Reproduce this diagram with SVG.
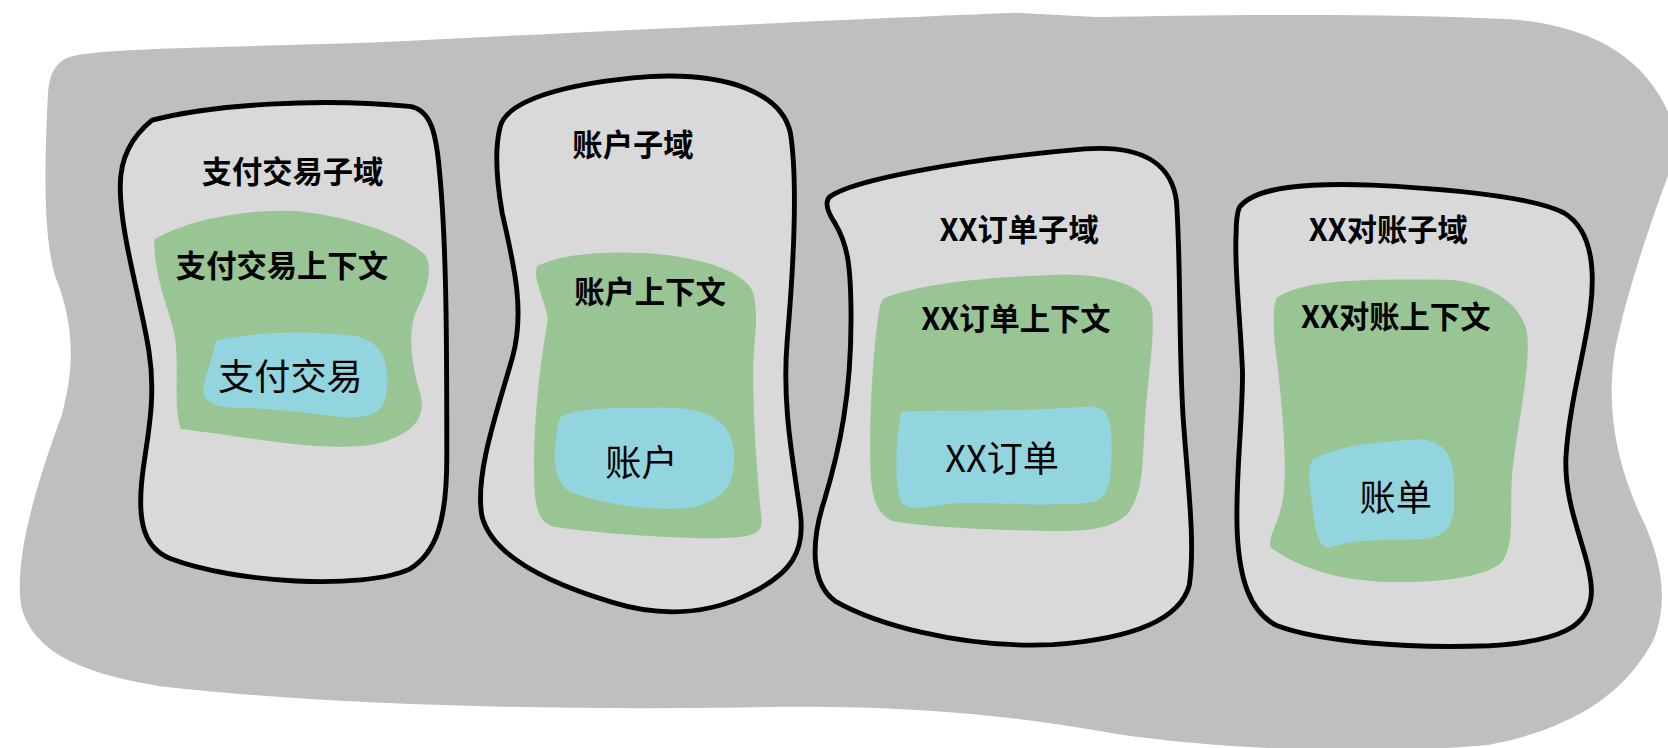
<svg xmlns="http://www.w3.org/2000/svg" width="1668" height="748" viewBox="0 0 1668 748">
<style>
.sub{fill:#d9d9d9;stroke:#000;stroke-width:4.6;stroke-linejoin:round}
.ctx{fill:#99c494}
.ent{fill:#92d5de}
.t{font-family:"Noto Sans CJK SC","Noto Sans",sans-serif;fill:#000;text-anchor:middle}
.b{font-weight:bold;font-size:28.5px}
.n{font-size:34px}
</style>
<rect width="1668" height="748" fill="#ffffff"/>
<g transform="scale(1.0638)">
<g id="domain">
<path fill="#bfbfbf" d="M62,55 C80,45 200,45 350,40 C550,30 800,18 955,12 L1030,16 C1150,14 1300,12 1420,18 C1500,25 1545,55 1568,105 L1568,165 C1555,200 1530,270 1518,330 C1510,380 1518,430 1540,480 C1560,520 1570,560 1555,600 C1530,650 1480,685 1400,700 C1300,710 1150,705 1050,690 C950,672 850,662 700,665 C500,668 300,662 150,645 C70,632 30,610 20,570 C12,520 40,440 58,390 C72,340 68,300 52,260 C40,220 42,150 45,90 C46,70 52,60 62,55 Z"/>
</g>
<g id="sub-payment">
<path class="sub" d="M143,113 C200,98 300,92 385,100 C405,103 410,125 413,160 C420,230 420,330 420,430 C420,490 410,520 385,535 C340,555 220,548 160,525 C135,515 130,490 133,455 C136,420 148,380 140,330 C132,280 113,220 113,175 C113,145 128,125 143,113 Z"/>
<path class="ctx" d="M145,225 C180,205 230,198 270,198 C320,200 380,220 400,240 C408,255 400,275 390,295 C384,315 386,340 395,370 C402,395 385,410 350,418 C300,425 240,412 170,403 C163,385 168,350 165,320 C160,290 145,265 145,225 Z"/>
<path class="ent" d="M203,320 C240,312 290,310 335,316 C360,322 365,340 364,365 C362,388 350,394 320,392 C290,388 250,383 215,383 C195,382 188,372 192,360 C196,345 200,335 203,320 Z"/>
<text class="t b" x="275" y="172">支付交易子域</text>
<text class="t b" x="265" y="260">支付交易上下文</text>
<text class="t n" x="273" y="367">支付交易</text>
</g>
<g id="sub-account">
<path class="sub" d="M470,120 C475,95 530,78 610,72 C685,68 735,88 743,125 C750,170 746,250 740,320 C735,380 745,430 752,480 C758,520 742,540 705,558 C665,578 620,580 575,566 C515,548 462,522 453,485 C446,445 468,385 482,335 C494,290 482,245 472,200 C466,165 465,140 470,120 Z"/>
<path class="ctx" d="M505,250 C530,238 570,236 610,238 C660,242 700,255 708,275 C714,300 708,320 708,350 C708,400 712,450 716,490 C716,505 700,506 660,506 C610,505 550,500 520,495 C505,490 502,475 502,440 C502,390 508,340 515,300 C512,280 500,262 505,250 Z"/>
<path class="ent" d="M527,392 C545,382 580,384 620,383 C665,382 688,395 690,425 C692,455 680,470 650,477 C610,482 560,472 535,462 C520,452 520,430 523,410 C524,400 525,395 527,392 Z"/>
<text class="t b" x="595" y="147">账户子域</text>
<text class="t b" x="611" y="285">账户上下文</text>
<text class="t n" x="603" y="447">账户</text>
</g>
<g id="sub-order">
<path class="sub" d="M780,185 C800,170 900,150 1020,140 C1075,136 1102,155 1106,190 C1110,250 1108,320 1112,390 C1116,450 1124,510 1118,550 C1110,580 1070,600 990,606 C900,610 820,585 785,565 C762,548 762,510 775,470 C790,420 800,370 800,300 C800,250 797,230 785,210 C777,198 775,190 780,185 Z"/>
<path class="ctx" d="M832,280 C870,265 940,260 1000,258 C1050,258 1078,272 1083,290 C1086,320 1078,360 1076,400 C1074,440 1074,465 1060,483 C1045,498 1020,500 980,499 C920,498 870,495 840,490 C820,482 818,460 818,420 C818,370 822,320 826,295 C827,288 828,283 832,280 Z"/>
<path class="ent" d="M848,387 C890,385 950,388 1025,382 C1042,382 1045,395 1045,420 C1045,450 1043,468 1028,472 C990,477 940,472 900,473 C870,476 855,482 847,472 C841,455 842,420 845,400 C846,392 847,389 848,387 Z"/>
<text class="t b" x="958" y="227">XX订单子域</text>
<text class="t b" x="955" y="310">XX订单上下文</text>
<text class="t n" x="942" y="444">XX订单</text>
</g>
<g id="sub-reconcile">
<path class="sub" d="M1165,195 C1180,175 1230,172 1290,174 C1370,178 1440,185 1470,200 C1495,215 1500,250 1495,290 C1490,330 1475,380 1472,430 C1470,480 1495,520 1496,555 C1496,590 1465,603 1400,607 C1320,610 1240,603 1200,588 C1175,575 1165,545 1163,500 C1161,450 1168,400 1168,350 C1166,300 1160,250 1162,220 C1162,208 1163,200 1165,195 Z"/>
<path class="ctx" d="M1200,280 C1225,262 1290,262 1360,263 C1400,265 1428,285 1435,310 C1440,340 1428,390 1422,440 C1418,480 1425,510 1412,528 C1395,545 1340,548 1300,547 C1250,545 1215,530 1195,515 C1190,505 1205,490 1207,460 C1210,420 1203,360 1198,320 C1197,300 1197,288 1200,280 Z"/>
<path class="ent" d="M1234,432 C1260,418 1300,415 1335,413 C1360,415 1368,430 1367,465 C1368,495 1360,505 1335,507 C1300,508 1270,507 1250,515 C1238,515 1236,495 1233,470 C1230,450 1229,440 1234,432 Z"/>
<text class="t b" x="1305" y="227">XX对账子域</text>
<text class="t b" x="1312" y="308">XX对账上下文</text>
<text class="t n" x="1312" y="480">账单</text>
</g>
</g>
</svg>
